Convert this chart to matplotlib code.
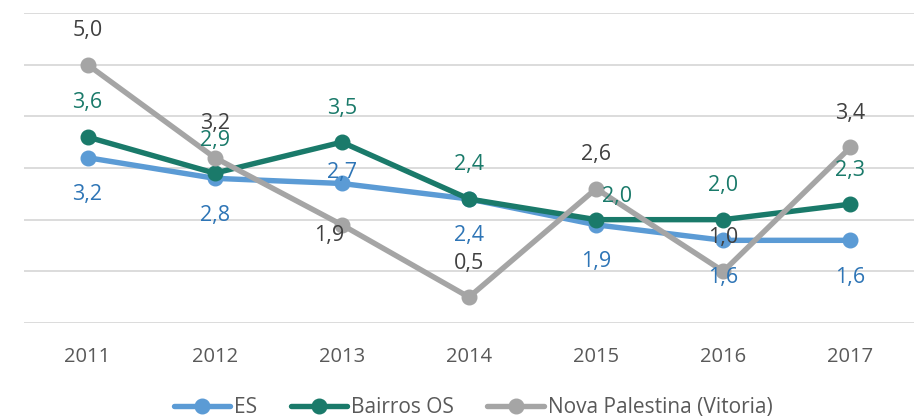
import matplotlib.pyplot as plt
import numpy as np

years = ['2011', '2012', '2013', '2014', '2015', '2016', '2017']
es = [3.2, 2.8, 2.7, 2.4, 1.9, 1.6, 1.6]
bairros_os = [3.6, 2.9, 3.5, 2.4, 2.0, 2.0, 2.3]
nova_palestina = [5.0, 3.2, 1.9, 0.5, 2.6, 1.0, 3.4]

plt.rcParams['font.family'] = ['Open Sans', 'DejaVu Sans']

fig = plt.figure(figsize=(9.19, 4.18), dpi=100)
ax = fig.add_axes([0.0261, 0.2273, 0.9685, 0.7416])

x = np.arange(len(years))

# name, values, line colour, label colour, default label offset (px)
series = [
    ('ES', es, '#5B9BD5', '#2E75B6', (0, -37)),
    ('Bairros OS', bairros_os, '#1A7A6A', '#1A7A6A', (0, 34)),
    ('Nova Palestina (Vitoria)', nova_palestina, '#A5A5A5', '#404040', (0, 34)),
]

# a few labels sit elsewhere to dodge the lines
label_shift = {
    ('ES', 2): (0, 11),
    ('Nova Palestina (Vitoria)', 2): (-13, -11),
    ('Bairros OS', 4): (21, 23),
    ('Bairros OS', 1): (0, 33),
}

for name, vals, col, lcol, off in series:
    ax.plot(x, vals, color=col, lw=3.9, marker='o', ms=10.5,
            solid_capstyle='round', label=name)
    for i, v in enumerate(vals):
        dx, dy = label_shift.get((name, i), off)
        ax.annotate(f'{v:.1f}'.replace('.', ','), (x[i], v), xytext=(dx, dy),
                    textcoords='offset pixels', ha='center', va='center',
                    fontsize=15.5, color=lcol)

ax.set_xlim(-0.5, len(years) - 0.5)
ax.set_ylim(0, 6)
ax.set_yticks(np.arange(0, 7, 1))
ax.yaxis.grid(True, color='#D9D9D9', lw=1.3)
ax.set_axisbelow(True)
ax.tick_params(axis='y', left=False, labelleft=False)
ax.set_xticks(x)
ax.set_xticklabels(years)
ax.tick_params(axis='x', length=0, pad=17, labelsize=14.5, labelcolor='#595959')
for s in ax.spines.values():
    s.set_visible(False)

fig.legend(loc='lower center', bbox_to_anchor=(0.515, -0.045), ncol=3,
           frameon=False, fontsize=15, labelcolor='#595959',
           handlelength=2.7, handletextpad=0.2, columnspacing=1.6)

fig.savefig('out.png', dpi=100)
